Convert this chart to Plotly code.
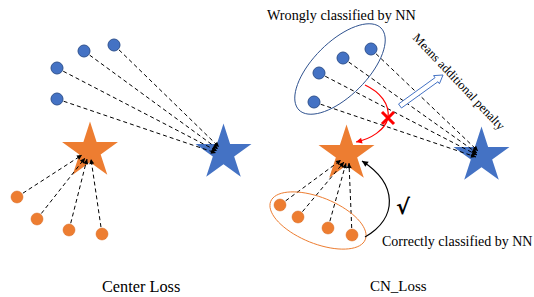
import numpy as np
import plotly.graph_objects as go

W, H = 534, 297
BLUE = "#4472C4"
BLUE_EDGE = "#2F528F"
ORANGE = "#ED7D31"
SERIF = "Liberation Serif, Times New Roman, serif"

# ---- left panel (Center Loss) ----
left_blue_x = [114, 84, 57, 57]
left_blue_y = [45, 51, 68, 99]
left_blue_end_x = [219, 218, 217, 216]
left_blue_end_y = [147, 149, 151, 153]
left_orange_x = [17, 37, 69, 102]
left_orange_y = [197, 219, 230, 234]
left_orange_end_x = [82, 85, 87, 91]
left_orange_end_y = [155, 158, 159, 159]
left_star_x = [90, 223.5]
left_star_y = [151, 153]

# ---- right panel (CN_Loss) ----
right_blue_x = [371, 343, 319, 314]
right_blue_y = [49, 58, 73, 102]
right_blue_end_x = [478, 477, 477, 476]
right_blue_end_y = [151, 153, 155, 157]
right_orange_x = [280, 298, 328, 352]
right_orange_y = [205, 217, 228, 235]
right_orange_end_x = [341, 344, 346, 349]
right_orange_end_y = [160, 162, 163, 163]
right_star_x = [346.5, 481.5]
right_star_y = [154, 156]

star_colors = [ORANGE, BLUE]

fig = go.Figure()

def dashed(xs, ys, ex, ey):
    for x0, y0, x1, y1 in zip(xs, ys, ex, ey):
        fig.add_trace(go.Scatter(x=[x0, x1], y=[y0, y1], mode="lines",
                                 line=dict(color="black", width=1, dash="4px,3px"),
                                 hoverinfo="skip", showlegend=False))
        d = np.array([x1 - x0, y1 - y0], float)
        d /= np.hypot(*d)
        fig.add_annotation(x=x1, y=y1, ax=x1 - 7 * d[0], ay=y1 - 7 * d[1],
                           xref="x", yref="y", axref="x", ayref="y", text="",
                           showarrow=True, arrowhead=2, arrowsize=1,
                           arrowwidth=1, arrowcolor="black")

# stars first (under lines)
for sx, sy in ((left_star_x, left_star_y), (right_star_x, right_star_y)):
    fig.add_trace(go.Scatter(x=sx, y=sy, mode="markers",
                             marker=dict(symbol="star", size=42, color=star_colors,
                                         line=dict(width=0)),
                             hoverinfo="skip", showlegend=False))

dashed(left_blue_x, left_blue_y, left_blue_end_x, left_blue_end_y)
dashed(left_orange_x, left_orange_y, left_orange_end_x, left_orange_end_y)
dashed(right_blue_x, right_blue_y, right_blue_end_x, right_blue_end_y)
dashed(right_orange_x, right_orange_y, right_orange_end_x, right_orange_end_y)

for bx, by in ((left_blue_x, left_blue_y), (right_blue_x, right_blue_y)):
    fig.add_trace(go.Scatter(x=bx, y=by, mode="markers",
                             marker=dict(size=12, color=BLUE, line=dict(width=1, color=BLUE_EDGE)),
                             hoverinfo="skip", showlegend=False))
for ox, oy in ((left_orange_x, left_orange_y), (right_orange_x, right_orange_y)):
    fig.add_trace(go.Scatter(x=ox, y=oy, mode="markers",
                             marker=dict(size=12, color=ORANGE, line=dict(width=0.5, color="#d9691f")),
                             hoverinfo="skip", showlegend=False))

# ellipses
def ellipse_path(cx, cy, a, b, ang_deg, n=72):
    t = np.linspace(0, 2 * np.pi, n, endpoint=False)
    c, s = np.cos(np.radians(ang_deg)), np.sin(np.radians(ang_deg))
    px = cx + a * np.cos(t) * c - b * np.sin(t) * s
    py = cy + a * np.cos(t) * s + b * np.sin(t) * c
    return "M " + " L ".join(f"{x:.2f},{y:.2f}" for x, y in zip(px, py)) + " Z"

fig.add_shape(type="path", path=ellipse_path(340, 69, 58, 27, -45),
              line=dict(color=BLUE_EDGE, width=1))
fig.add_shape(type="path", path=ellipse_path(318, 220.5, 51, 23, 22),
              line=dict(color=ORANGE, width=1))

# red curve with X and arrow
fig.add_shape(type="path", path="M 365,85 C 380,92 390,104 388,118 C 385,130 371,139 356,142",
              line=dict(color="red", width=1.2))
fig.add_annotation(x=356, y=142, ax=362, ay=140.5, xref="x", yref="y", axref="x", ayref="y",
                   text="", showarrow=True, arrowhead=2, arrowsize=1, arrowwidth=1.2,
                   arrowcolor="red")
fig.add_trace(go.Scatter(x=[388], y=[118], mode="markers",
                         marker=dict(symbol="x-thin-open", size=12, color="red",
                                     line=dict(width=3, color="red")),
                         hoverinfo="skip", showlegend=False))

# black curve arrow
fig.add_shape(type="path", path="M 365,237 C 398,218 398,184 362,161",
              line=dict(color="black", width=1.2))
fig.add_annotation(x=362, y=161, ax=368, ay=165, xref="x", yref="y", axref="x", ayref="y",
                   text="", showarrow=True, arrowhead=2, arrowsize=1, arrowwidth=1.2,
                   arrowcolor="black")

# hollow blue arrow
p0 = np.array([400, 106.0]); p1 = np.array([443, 75.0])
u = (p1 - p0) / np.hypot(*(p1 - p0)); nrm = np.array([-u[1], u[0]])
hw, hh, hl = 2.5, 5.0, 8.0
pb = p1 - u * hl
pts = [p0 + nrm * hw, pb + nrm * hw, pb + nrm * hh, p1, pb - nrm * hh, pb - nrm * hw, p0 - nrm * hw]
fig.add_shape(type="path", path="M " + " L ".join(f"{x:.2f},{y:.2f}" for x, y in pts) + " Z",
              line=dict(color=BLUE, width=1), fillcolor="white")

# texts
texts = [
    ("Wrongly classified by NN", 341.5, 15, 14.2, 0),
    ("Means additional penalty", 459, 82, 12.6, 46.6),
    ("Correctly classified by NN", 456.5, 241.5, 14, 0),
    ("Center Loss", 141, 286, 16.3, 0),
    ("CN_Loss", 398.5, 286, 15, 0),
]
for t, x, y, s, ang in texts:
    fig.add_annotation(x=x, y=y, xref="x", yref="y", text=t, showarrow=False,
                       textangle=ang, font=dict(family=SERIF, size=s, color="black"))
fig.add_annotation(x=403, y=207, xref="x", yref="y", text="<b>√</b>", showarrow=False,
                   font=dict(family="DejaVu Sans, sans-serif", size=21, color="black"))

fig.update_xaxes(range=[0, W], visible=False, fixedrange=True)
fig.update_yaxes(range=[H, 0], visible=False, fixedrange=True)
fig.update_layout(width=W, height=H, margin=dict(l=0, r=0, t=0, b=0),
                  plot_bgcolor="white", paper_bgcolor="white", showlegend=False)
fig.write_html("out.html", config={"displayModeBar": False},
               post_script="document.body.style.margin='0';document.body.style.overflow='hidden';")
